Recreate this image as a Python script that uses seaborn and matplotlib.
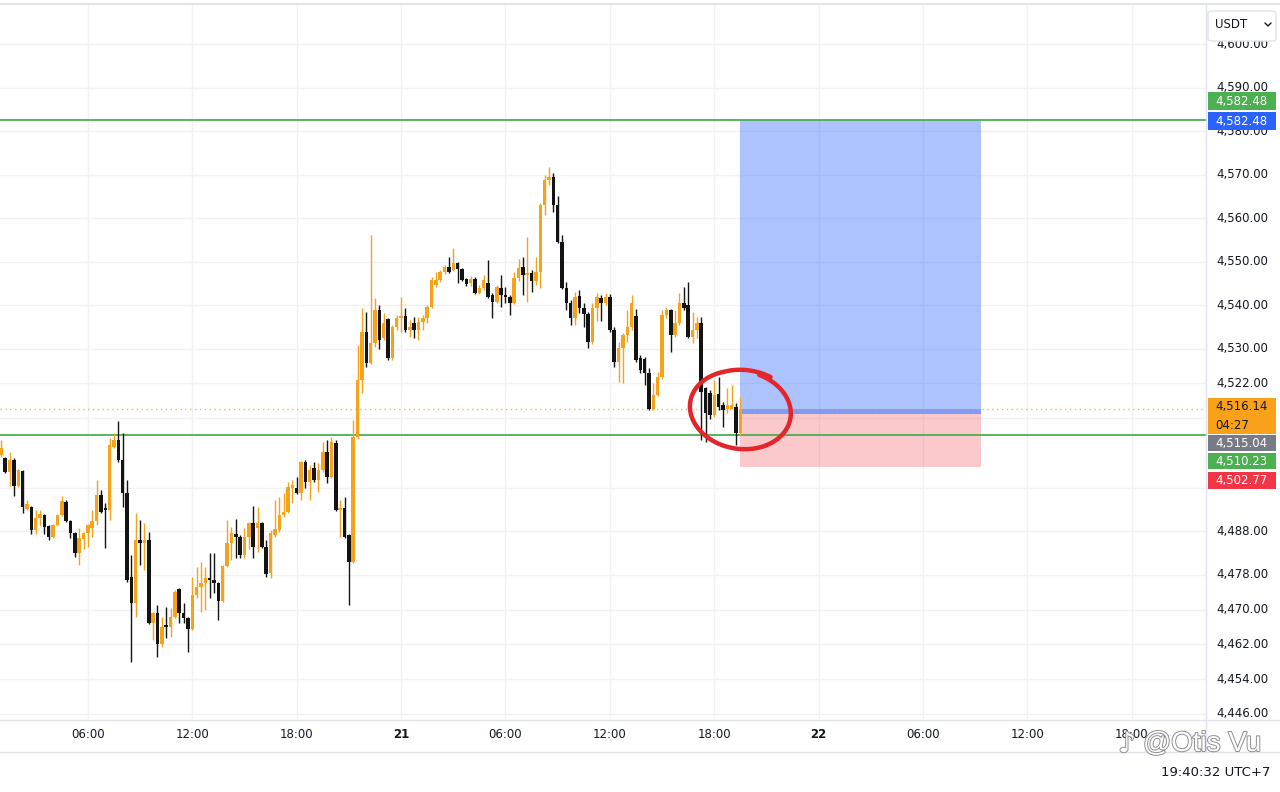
import numpy as np
import pandas as pd
import seaborn as sns
import matplotlib
matplotlib.use("Agg")
import matplotlib.pyplot as plt
import matplotlib.patheffects as pe
from matplotlib.lines import Line2D
from matplotlib.patches import Rectangle, FancyBboxPatch
from matplotlib.transforms import blended_transform_factory

# ---------------- data (15-minute candles, 20th 01:00 -> 21st 19:30, UTC+7) ----------------
opens = [4505.5, 4504.8, 4501.6, 4504.4, 4498.4, 4501.8, 4493.1, 4493.6, 4488.3, 4491.0,
         4491.7, 4489.2, 4486.7, 4489.4, 4491.7, 4494.7, 4490.3, 4487.6, 4483.0, 4486.2,
         4487.6, 4488.8, 4490.3, 4496.3, 4493.1, 4492.9, 4507.4, 4509.0, 4504.4, 4496.8,
         4477.5, 4471.5, 4486.0, 4485.3, 4486.0, 4466.9, 4469.2, 4462.1, 4466.2, 4466.0,
         4468.3, 4474.7, 4469.2, 4468.0, 4465.5, 4473.3, 4475.2, 4476.1, 4477.2, 4476.8,
         4476.1, 4472.0, 4480.0, 4485.3, 4487.3, 4486.6, 4482.5, 4486.6, 4489.9, 4488.7,
         4489.9, 4484.4, 4478.4, 4487.1, 4488.3, 4491.7, 4492.4, 4497.9, 4497.9, 4496.8,
         4503.9, 4499.3, 4502.5, 4499.8, 4502.1, 4506.2, 4500.5, 4508.3, 4492.9, 4493.3,
         4487.1, 4480.9, 4509.7, 4522.8, 4533.8, 4526.7, 4531.3, 4538.9, 4532.4, 4536.8,
         4527.8, 4534.9, 4537.0, 4537.5, 4534.3, 4535.9, 4534.3, 4536.1, 4537.0, 4539.5,
         4544.6, 4545.7, 4547.6, 4548.7, 4548.0, 4549.7, 4548.3, 4546.0, 4545.0, 4546.0,
         4542.8, 4543.9, 4545.0, 4542.3, 4540.7, 4543.9, 4542.3, 4541.8, 4540.5, 4546.2,
         4548.7, 4546.9, 4547.3, 4545.5, 4547.6, 4563.0, 4568.7, 4569.4, 4563.0, 4554.5,
         4543.9, 4540.5, 4537.0, 4542.0, 4539.3, 4538.0, 4531.5, 4539.3, 4541.6, 4540.5,
         4541.8, 4534.3, 4526.9, 4530.1, 4533.1, 4534.9, 4537.5, 4527.8, 4527.6, 4524.4,
         4516.1, 4519.3, 4523.4, 4537.7, 4538.9, 4533.1, 4535.9, 4540.5, 4540.0, 4532.6,
         4534.3, 4535.9, 4520.9, 4519.9, 4514.7, 4519.5, 4517.0, 4516.1, 4516.1, 4516.5,
         4510.6]
highs = [4509.0, 4505.1, 4506.2, 4504.8, 4502.3, 4502.1, 4495.2, 4493.8, 4492.9, 4492.9,
         4492.0, 4489.4, 4489.6, 4492.0, 4496.1, 4495.2, 4490.6, 4487.8, 4488.7, 4487.8,
         4489.6, 4492.9, 4499.8, 4497.5, 4494.5, 4509.5, 4510.6, 4513.3, 4510.6, 4499.8,
         4482.5, 4492.2, 4490.6, 4489.9, 4487.8, 4469.4, 4471.0, 4468.3, 4470.6, 4470.3,
         4474.5, 4474.9, 4471.5, 4468.3, 4477.5, 4479.8, 4480.9, 4479.8, 4483.0, 4483.0,
         4476.3, 4480.2, 4490.6, 4489.0, 4490.8, 4487.1, 4488.7, 4490.1, 4493.8, 4493.6,
         4490.1, 4486.0, 4488.3, 4495.2, 4495.9, 4496.8, 4499.3, 4499.8, 4500.5, 4504.1,
         4504.4, 4503.2, 4503.9, 4503.7, 4508.5, 4509.0, 4509.7, 4509.0, 4495.2, 4495.9,
         4487.3, 4513.6, 4530.8, 4539.3, 4538.4, 4556.1, 4541.6, 4540.0, 4538.2, 4537.0,
         4535.4, 4537.7, 4541.8, 4539.3, 4536.6, 4537.2, 4537.2, 4537.7, 4540.0, 4546.4,
         4547.6, 4548.0, 4549.2, 4551.0, 4553.1, 4549.9, 4548.5, 4546.2, 4546.6, 4546.4,
         4544.6, 4546.9, 4550.3, 4542.8, 4544.6, 4546.9, 4544.1, 4542.3, 4547.6, 4550.6,
         4551.0, 4555.6, 4548.0, 4551.0, 4563.4, 4569.9, 4571.7, 4570.3, 4565.0, 4556.1,
         4545.3, 4541.1, 4543.0, 4543.4, 4540.5, 4538.4, 4540.5, 4542.8, 4542.3, 4542.8,
         4542.5, 4534.9, 4531.5, 4533.6, 4538.9, 4542.3, 4539.0, 4528.5, 4528.0, 4525.5,
         4522.0, 4524.6, 4538.9, 4539.5, 4539.1, 4538.9, 4542.8, 4544.1, 4545.3, 4538.4,
         4537.2, 4537.2, 4521.1, 4520.5, 4522.8, 4523.4, 4517.7, 4520.9, 4521.6, 4517.5,
         4518.9]
lows = [4505.1, 4501.4, 4498.4, 4496.1, 4498.2, 4492.2, 4492.9, 4487.4, 4487.4, 4489.4,
        4487.4, 4486.0, 4486.4, 4489.2, 4491.5, 4490.1, 4486.4, 4482.1, 4480.2, 4483.9,
        4484.4, 4486.7, 4489.4, 4492.2, 4484.1, 4490.6, 4507.1, 4503.9, 4493.6, 4476.3,
        4457.9, 4468.3, 4480.2, 4479.1, 4466.7, 4463.0, 4459.1, 4461.4, 4463.4, 4463.7,
        4468.0, 4466.9, 4466.9, 4460.2, 4465.3, 4472.6, 4469.4, 4470.0, 4472.6, 4473.8,
        4467.6, 4471.7, 4479.8, 4481.4, 4481.8, 4481.8, 4481.8, 4484.0, 4481.8, 4483.2,
        4484.1, 4477.5, 4477.2, 4486.7, 4487.8, 4491.3, 4492.2, 4494.5, 4496.5, 4495.2,
        4497.9, 4495.2, 4499.3, 4497.0, 4501.6, 4499.1, 4500.2, 4492.7, 4486.7, 4486.4,
        4471.0, 4480.7, 4509.2, 4519.8, 4525.7, 4526.5, 4530.3, 4529.9, 4532.0, 4527.3,
        4527.3, 4534.3, 4533.8, 4533.8, 4532.6, 4532.4, 4532.0, 4534.3, 4535.9, 4539.3,
        4544.1, 4545.3, 4547.1, 4547.3, 4547.8, 4545.0, 4545.5, 4544.4, 4544.3, 4542.5,
        4542.5, 4543.4, 4541.6, 4537.0, 4540.5, 4539.5, 4540.5, 4537.7, 4540.2, 4545.5,
        4542.3, 4540.7, 4543.0, 4544.6, 4543.9, 4560.7, 4567.6, 4561.4, 4554.3, 4543.7,
        4538.9, 4535.4, 4535.4, 4538.2, 4535.0, 4530.1, 4531.0, 4536.3, 4536.3, 4540.0,
        4533.8, 4525.7, 4522.3, 4522.1, 4531.5, 4534.3, 4526.9, 4524.4, 4521.6, 4515.8,
        4515.9, 4519.0, 4523.0, 4537.0, 4529.2, 4532.6, 4535.4, 4538.9, 4532.4, 4531.3,
        4532.4, 4509.0, 4508.5, 4513.8, 4514.2, 4515.9, 4511.9, 4515.2, 4516.0, 4507.8,
        4510.1]
closes = [4507.1, 4501.6, 4504.4, 4498.4, 4502.1, 4493.6, 4494.3, 4488.3, 4491.0, 4492.0,
          4489.0, 4486.7, 4489.4, 4491.7, 4494.9, 4490.3, 4487.6, 4483.0, 4486.4, 4487.6,
          4489.4, 4490.3, 4496.3, 4492.4, 4492.9, 4507.8, 4509.0, 4504.4, 4496.8, 4476.8,
          4471.5, 4486.0, 4485.3, 4486.0, 4466.9, 4469.2, 4462.1, 4466.0, 4466.0, 4468.3,
          4474.0, 4469.2, 4468.0, 4465.5, 4473.3, 4475.2, 4476.1, 4477.2, 4476.8, 4476.1,
          4472.0, 4480.0, 4485.3, 4487.6, 4486.6, 4482.5, 4486.6, 4489.9, 4484.4, 4489.9,
          4484.4, 4478.2, 4487.6, 4488.5, 4491.7, 4492.4, 4498.2, 4498.6, 4496.8, 4503.9,
          4499.3, 4502.1, 4499.8, 4502.1, 4506.2, 4500.5, 4508.5, 4492.9, 4493.3, 4486.7,
          4480.9, 4509.7, 4522.8, 4533.8, 4526.7, 4531.3, 4538.9, 4532.0, 4535.9, 4527.8,
          4534.9, 4537.0, 4537.5, 4534.3, 4534.9, 4534.3, 4536.1, 4537.0, 4539.5, 4545.7,
          4545.7, 4547.6, 4548.7, 4547.6, 4549.7, 4548.3, 4545.7, 4544.8, 4546.0, 4542.8,
          4543.9, 4545.7, 4541.8, 4540.7, 4544.1, 4542.3, 4541.8, 4540.5, 4546.2, 4548.5,
          4546.9, 4547.3, 4545.5, 4547.6, 4563.0, 4568.7, 4569.4, 4563.0, 4554.5, 4543.9,
          4540.5, 4537.0, 4541.8, 4539.3, 4538.0, 4531.5, 4539.3, 4541.8, 4540.5, 4541.8,
          4534.3, 4526.9, 4530.1, 4533.1, 4534.9, 4540.5, 4527.4, 4525.1, 4524.4, 4516.1,
          4519.3, 4523.4, 4537.7, 4538.9, 4533.1, 4535.9, 4540.5, 4539.3, 4532.6, 4534.3,
          4535.9, 4520.0, 4515.2, 4514.7, 4519.3, 4516.5, 4515.9, 4517.0, 4517.0, 4510.6,
          4516.14]
first_bar_hour = -23.0      # hours relative to the 21st 00:00
bar_hours = 0.25

x_tick_hours = [-18, -12, -6, 0, 6, 12, 18, 24, 30, 36, 42]
x_tick_labels = ["06:00", "12:00", "18:00", "21", "06:00", "12:00", "18:00", "22", "06:00", "12:00", "18:00"]
y_tick_values = [4600, 4590, 4580, 4570, 4560, 4550, 4540, 4530, 4522, 4488, 4478, 4470, 4462, 4454, 4446]
y_grid_extra = [4514, 4498]

target_price = 4582.48
entry_price = 4515.04
stop_price = 4502.77
current_price = 4516.14
support_price = 4510.23
position_start_hour = 19.5
position_end_hour = 33.33
countdown = "04:27"
clock_text = "19:40:32 UTC+7"

# ---------------- style ----------------
sns.set_theme(style="white")
plt.rcParams['font.family'] = ['DejaVu Sans']

BULL = "#f5a31a"
BEAR = "#131313"
TXT = "#131722"
GRID = "#f0f2f6"
SEP = "#e0e3eb"

W, H = 1280, 792
fig = plt.figure(figsize=(12.8, 7.92), dpi=100)
fig.patch.set_facecolor("white")
plot_left, plot_right, plot_top, plot_bottom = 0, 1206, 5, 720
ax = fig.add_axes([plot_left / W, (H - plot_bottom) / H,
                   (plot_right - plot_left) / W, (plot_bottom - plot_top) / H])
ax.set_facecolor("white")
ax.set_xlim(-23.05, 46.26)
ax.set_ylim(4444.6, 4609.0)
for s in ax.spines.values():
    s.set_visible(False)

# grid
for v in y_tick_values + y_grid_extra:
    ax.axhline(v, color=GRID, lw=1, zorder=0)
for h in x_tick_hours:
    ax.axvline(h, color=GRID, lw=1, zorder=0)

# candles
df = pd.DataFrame({"open": opens, "high": highs, "low": lows, "close": closes})
df["hour"] = first_bar_hour + bar_hours * np.arange(len(df))
df["bull"] = df["close"] >= df["open"]
colors = np.where(df["bull"], BULL, BEAR)
ax.vlines(df["hour"], df["low"], df["high"], colors=colors, lw=1, zorder=3)
body_h = np.maximum((df["close"] - df["open"]).abs(), 0.35)
ax.bar(df["hour"], body_h, bottom=np.minimum(df["open"], df["close"]),
       width=0.2, color=colors, edgecolor="none", zorder=4)

# position tool
ax.add_patch(Rectangle((position_start_hour, entry_price), position_end_hour - position_start_hour,
                       target_price - entry_price, facecolor=(41/255, 98/255, 1, 0.38),
                       edgecolor="none", zorder=1))
ax.add_patch(Rectangle((position_start_hour, stop_price), position_end_hour - position_start_hour,
                       entry_price - stop_price, facecolor=(242/255, 54/255, 69/255, 0.27),
                       edgecolor="none", zorder=1))
ax.add_patch(Rectangle((position_start_hour, entry_price), position_end_hour - position_start_hour,
                       current_price - entry_price, facecolor="#7f9cf5",
                       edgecolor="none", zorder=1.5))

# horizontal lines
ax.axhline(target_price, color="#4caf50", lw=1.3, zorder=2)
ax.axhline(support_price, color="#4caf50", lw=1.3, zorder=2)
ax.axhline(current_price, color="#f5a31a", lw=1, ls=(0, (1, 2.5)), zorder=2, alpha=0.8)

# hand-drawn circle
t = np.linspace(np.deg2rad(68), np.deg2rad(68 - 372), 300)
grow = 1 + 0.07 * np.clip((np.rad2deg(np.deg2rad(68) - t) - 320) / 50, 0, 1)
cx, cy, rx, ry = 19.5, 4515.9, 2.9, 9.0
ex = cx + rx * grow * np.cos(t)
ey = cy + ry * grow * np.sin(t) - 0.8 * np.cos(t)
ax.plot(ex, ey, color="#e3262a", lw=3.2, solid_capstyle="round", zorder=6)

# x axis
ax.set_xticks(x_tick_hours)
ax.set_xticklabels(x_tick_labels)
ax.tick_params(axis="x", length=0, pad=6, labelsize=8.5, colors=TXT)
ax.tick_params(axis="y", left=False, right=False, labelleft=False, labelright=False)
for lab, txt in zip(ax.get_xticklabels(), x_tick_labels):
    if ":" not in txt:
        lab.set_fontweight("bold")

# y labels
trans = blended_transform_factory(ax.transAxes, ax.transData)
for v in y_tick_values:
    ax.text(1216 / plot_right, v, f"{v:,.2f}", transform=trans, ha="left", va="center",
            fontsize=8.5, color=TXT, clip_on=False)

# separators
def fx(px):
    return px / W

def fy(py):
    return 1 - py / H

fig.add_artist(Line2D([0, 1], [fy(4), fy(4)], color=SEP, lw=1.5))
fig.add_artist(Line2D([fx(1206), fx(1206)], [fy(4), fy(752)], color=SEP, lw=1))
fig.add_artist(Line2D([0, 1], [fy(720), fy(720)], color=SEP, lw=1))
fig.add_artist(Line2D([0, 1], [fy(752), fy(752)], color=SEP, lw=1))

# price labels on scale
def price_box(y0, y1, color, lines, txtcolor="white"):
    fig.add_artist(Rectangle((fx(1208), fy(y1)), fx(1276) - fx(1208), fy(y0) - fy(y1),
                             transform=fig.transFigure, facecolor=color, edgecolor="none", zorder=5))
    n = len(lines)
    for i, s in enumerate(lines):
        yc = y0 + (y1 - y0) * (i + 0.5) / n
        fig.text(fx(1215), fy(yc), s, ha="left", va="center", fontsize=8.5, color=txtcolor, zorder=6)

price_box(92, 110, "#4caf50", [f"{target_price:,.2f}"])
price_box(112, 130, "#2962ff", [f"{target_price:,.2f}"])
price_box(398, 434, "#f9a11b", [f"{current_price:,.2f}", countdown], txtcolor=TXT)
price_box(435, 451, "#787b86", [f"{entry_price:,.2f}"])
price_box(453, 469, "#4caf50", [f"{support_price:,.2f}"])
price_box(472, 489, "#f23645", [f"{stop_price:,.2f}"])

# currency box (covers the top of the 4,600 label as in the reference)
fig.add_artist(FancyBboxPatch((fx(1208), fy(41)), fx(1276) - fx(1208), fy(11) - fy(41),
                              boxstyle="round,pad=0,rounding_size=0.003", transform=fig.transFigure,
                              facecolor="white", edgecolor=SEP, lw=1, zorder=5))
fig.text(fx(1215), fy(25), "USDT", ha="left", va="center", fontsize=8.5, color=TXT, zorder=6)
fig.add_artist(Line2D([fx(1265), fx(1268), fx(1271)], [fy(23), fy(26), fy(23)],
                      color=TXT, lw=1, zorder=6))

# watermark
stroke = [pe.withStroke(linewidth=1.4, foreground="#8f8f8f")]
fig.text(fx(1143), fy(744), "@Otis Vu", ha="left", va="center", fontsize=20,
         family=["Liberation Sans", "DejaVu Sans"], color="white", path_effects=stroke, zorder=7)
fig.text(fx(1127), fy(744), "♪", ha="center", va="center", fontsize=20,
         color="white", path_effects=stroke, zorder=7)

# clock
fig.text(fx(1270), fy(773), clock_text, ha="right", va="center", fontsize=9.5, color=TXT)

fig.savefig("out.png", dpi=100, facecolor="white")
